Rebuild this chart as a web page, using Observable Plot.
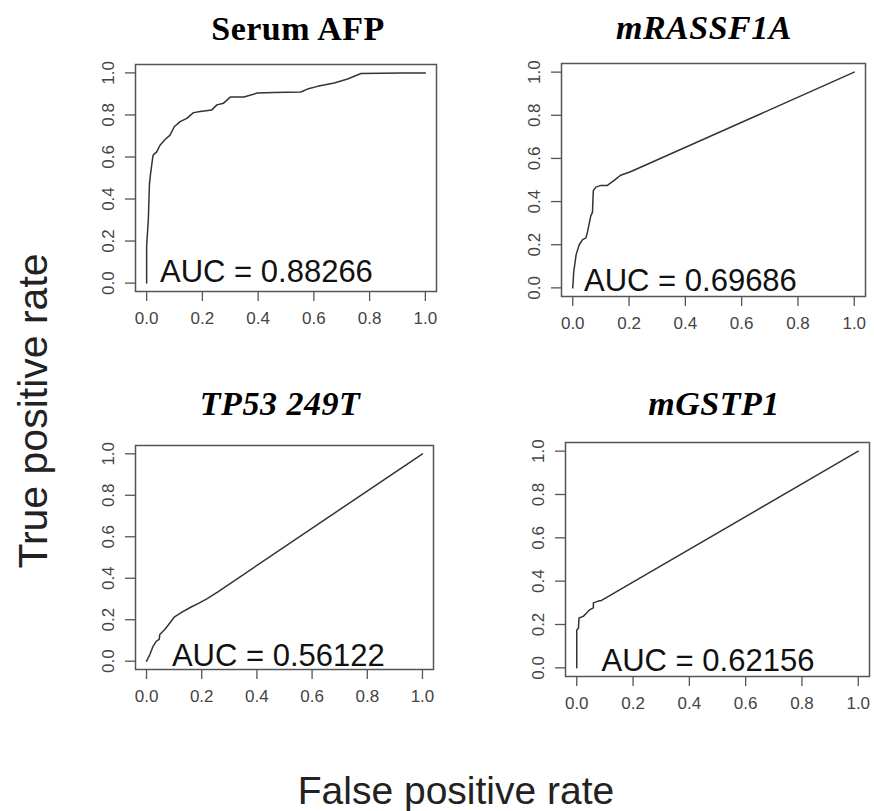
<!DOCTYPE html>
<html><head><meta charset="utf-8">
<script src="https://cdn.jsdelivr.net/npm/d3@7"></script>
<script src="https://cdn.jsdelivr.net/npm/@observablehq/plot@0.6"></script>
<style>
body{margin:0;background:#fff;}
#chart{position:relative;width:874px;height:811px;overflow:hidden;background:#fff;}
#chart > svg, #chart > figure{position:absolute;margin:0;}
</style></head><body><div id="chart"></div>
<script>
// ---- data ----
const panelTitles = ["Serum AFP", "mRASSF1A", "TP53 249T", "mGSTP1"];
const aucValues = ["0.88266", "0.69686", "0.56122", "0.62156"];
const tickValues = [0, 0.2, 0.4, 0.6, 0.8, 1.0];
const xAxisTitle = "False positive rate";
const yAxisTitle = "True positive rate";

const afpFpr = [0, 0, 0.006, 0.01, 0.014, 0.022, 0.024, 0.036, 0.048, 0.066, 0.084, 0.099, 0.12, 0.144, 0.168, 0.192, 0.234, 0.252, 0.276, 0.30, 0.349, 0.397, 0.457, 0.553, 0.577, 0.613, 0.673, 0.721, 0.769, 0.913, 1];
const afpTpr = [0, 0.18, 0.30, 0.47, 0.52, 0.60, 0.61, 0.624, 0.656, 0.683, 0.704, 0.744, 0.768, 0.784, 0.811, 0.816, 0.824, 0.848, 0.856, 0.885, 0.885, 0.904, 0.907, 0.909, 0.923, 0.936, 0.952, 0.971, 0.997, 1, 1];

const rassfFpr = [0, 0.0035, 0.012, 0.023, 0.035, 0.047, 0.053, 0.064, 0.07, 0.073, 0.082, 0.1, 0.123, 0.147, 0.17, 0.205, 1];
const rassfTpr = [0, 0.075, 0.154, 0.2, 0.224, 0.232, 0.263, 0.334, 0.35, 0.451, 0.467, 0.475, 0.475, 0.498, 0.522, 0.538, 1];

const tp53Fpr = [0, 0.012, 0.024, 0.036, 0.046, 0.048, 0.067, 0.085, 0.1, 0.13, 0.16, 0.19, 0.22, 0.26, 1];
const tp53Tpr = [0, 0.032, 0.073, 0.097, 0.105, 0.129, 0.154, 0.185, 0.212, 0.238, 0.26, 0.28, 0.302, 0.336, 1];

const gstpFpr = [0, 0, 0.006, 0.008, 0.023, 0.035, 0.047, 0.059, 0.059, 0.076, 0.088, 1];
const gstpTpr = [0, 0.175, 0.183, 0.23, 0.2375, 0.253, 0.269, 0.277, 0.3, 0.308, 0.311, 1];

// AUC annotation anchor (data coordinates, like R's text(x, y))
const aucLabelX = [0.048, 0.04, 0.092, 0.088];
const aucLabelY = [0.005, -0.014, -0.021, -0.015];

// ---- layout ----
const frames = [
  {L: 135, R: 436, T: 64, B: 291},
  {L: 561, R: 865, T: 63, B: 296},
  {L: 135, R: 433, T: 445, B: 669},
  {L: 565, R: 869, T: 442, B: 676}
];
const titlePos = [
  {x: 298, y: 40, italic: false},
  {x: 704, y: 39, italic: true},
  {x: 280, y: 415, italic: true},
  {x: 714, y: 415, italic: true}
];
const series = [[afpFpr, afpTpr], [rassfFpr, rassfTpr], [tp53Fpr, tp53Tpr], [gstpFpr, gstpTpr]];

const chart = document.getElementById("chart");
const fmt = d3.format(".1f");
const ml = 60, mr = 8, mt = 8, mb = 60;

series.forEach(([fpr, tpr], i) => {
  const f = frames[i];
  const data = fpr.map((x, j) => ({fpr: x, tpr: tpr[j]}));
  const w = f.R - f.L + ml + mr;
  const h = f.B - f.T + mt + mb;
  const svg = Plot.plot({
    width: w, height: h,
    marginLeft: ml, marginRight: mr, marginTop: mt, marginBottom: mb,
    style: {fontFamily: "'Liberation Sans', Arial, sans-serif", fontSize: "17px", background: "transparent", overflow: "visible"},
    x: {domain: [-0.04, 1.04]},
    y: {domain: [-0.04, 1.04]},
    marks: [
      Plot.axisX({ticks: tickValues, tickFormat: fmt, tickSize: 10, tickPadding: 10, fontSize: 17, stroke: "#555", fill: "#444", strokeWidth: 1.3, label: null}),
      Plot.axisY({ticks: tickValues, tickFormat: fmt, tickSize: 10, tickPadding: 12, tickRotate: -90, fontSize: 17, stroke: "#555", fill: "#444", strokeWidth: 1.3, label: null}),
      Plot.frame({stroke: "#555", strokeWidth: 1.5}),
      Plot.line(data, {x: "fpr", y: "tpr", stroke: "#333", strokeWidth: 1.5}),
      Plot.text([{x: aucLabelX[i], y: aucLabelY[i], t: "AUC = " + aucValues[i]}],
        {x: "x", y: "y", text: "t", textAnchor: "start", lineAnchor: "bottom", fontSize: 31, fill: "#111"})
    ]
  });
  svg.style.left = (f.L - ml) + "px";
  svg.style.top = (f.T - mt) + "px";
  chart.appendChild(svg);
});

// titles and shared axis titles
const over = d3.select(chart).append("svg")
  .attr("width", 874).attr("height", 811)
  .style("left", "0px").style("top", "0px")
  .style("pointer-events", "none");
panelTitles.forEach((t, i) => {
  over.append("text")
    .attr("x", titlePos[i].x).attr("y", titlePos[i].y)
    .attr("text-anchor", "middle")
    .attr("font-family", "'Liberation Serif', 'Times New Roman', serif")
    .attr("font-weight", "bold")
    .attr("font-style", titlePos[i].italic ? "italic" : "normal")
    .attr("font-size", 34)
    .attr("letter-spacing", "0.5px")
    .attr("fill", "#000")
    .text(t);
});
over.append("text")
  .attr("x", 456).attr("y", 804)
  .attr("text-anchor", "middle")
  .attr("font-family", "'Liberation Sans', Arial, sans-serif")
  .attr("font-size", 39).attr("fill", "#222")
  .text(xAxisTitle);
over.append("text")
  .attr("transform", "translate(47,411) rotate(-90)")
  .attr("text-anchor", "middle")
  .attr("font-family", "'Liberation Sans', Arial, sans-serif")
  .attr("font-size", 41).attr("fill", "#222")
  .text(yAxisTitle);
</script>
</body></html>
